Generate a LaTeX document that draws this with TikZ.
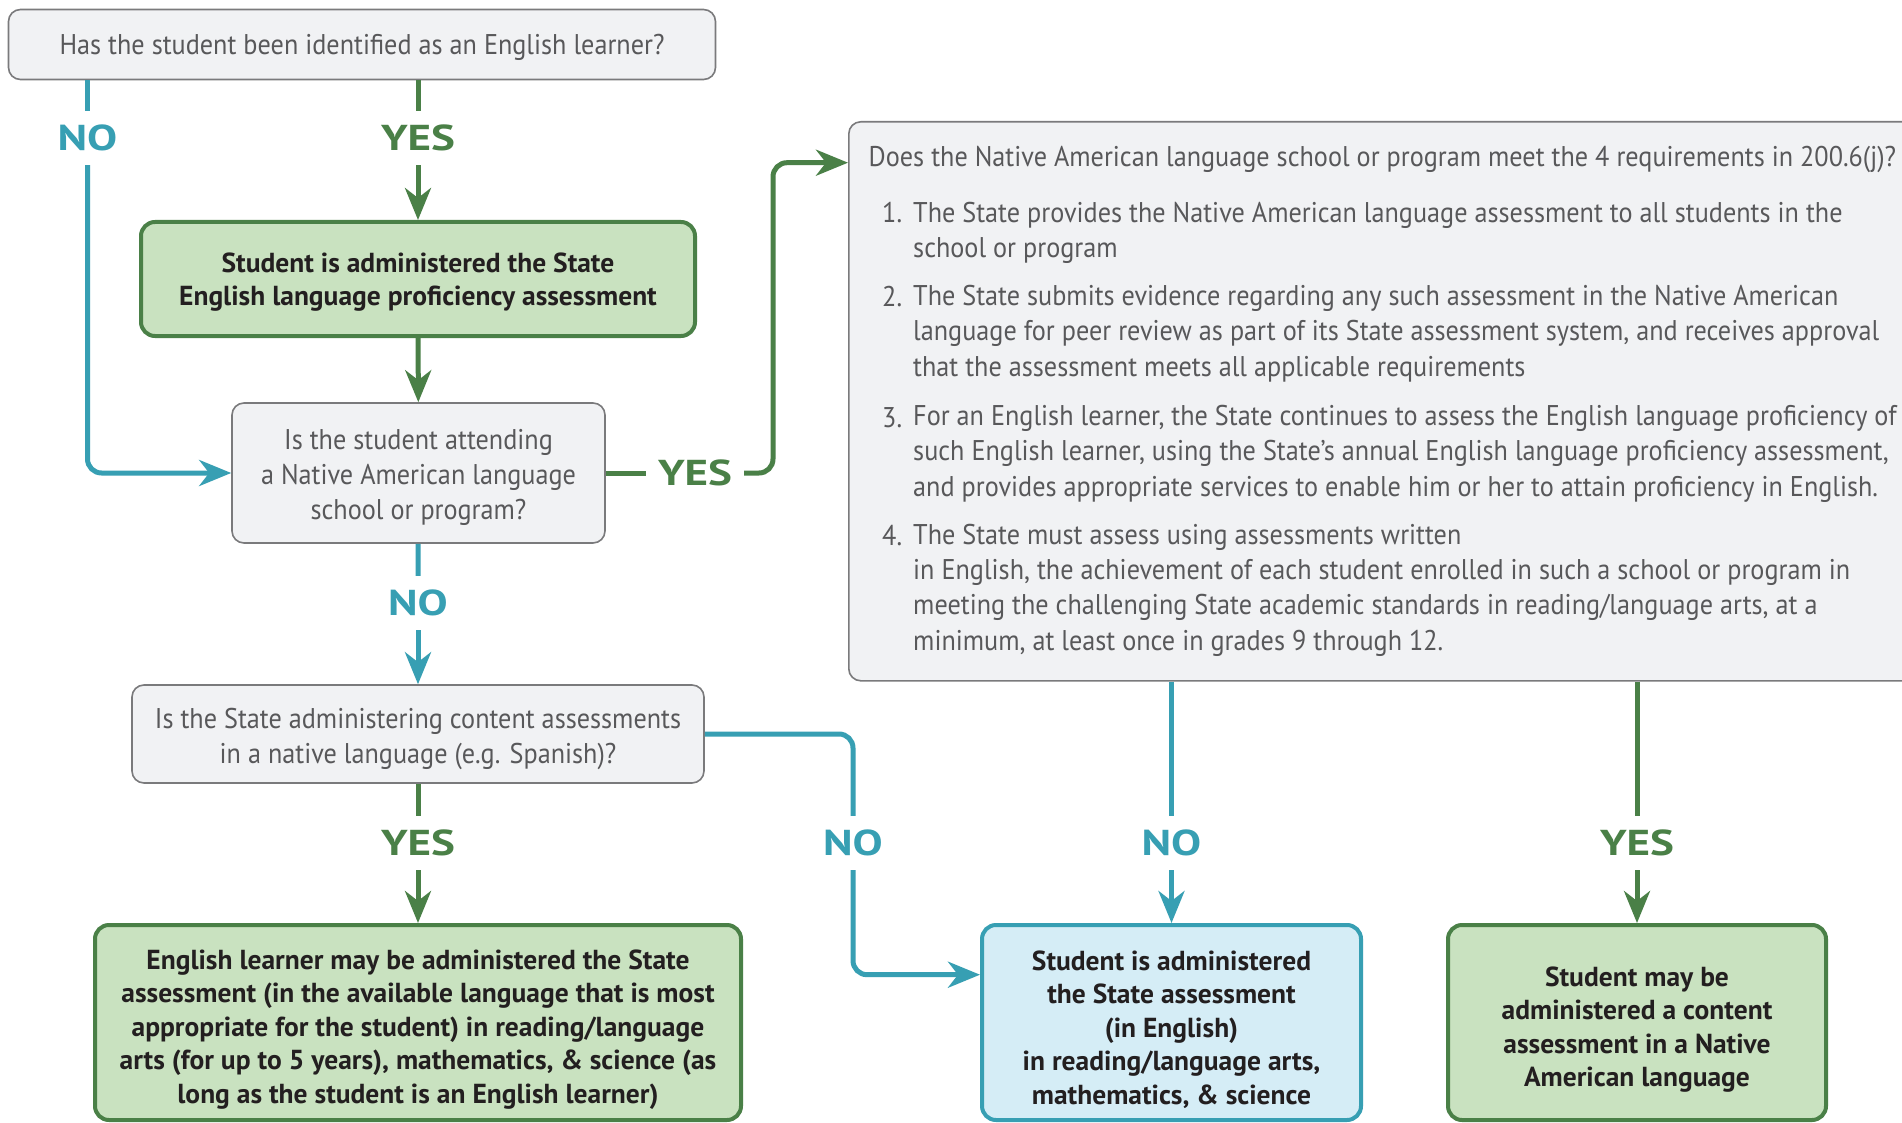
\documentclass[tikz,border=0pt]{standalone}
\usepackage{fontspec}
\setmainfont{PT Sans}[FakeStretch=0.92]
\newfontfamily\boldfnt{PT Sans}[FakeStretch=1.0]
\newfontfamily\lblfont{PT Sans}[FakeStretch=1.25]
\usetikzlibrary{arrows.meta,calc}
\definecolor{tealC}{HTML}{379FB3}
\definecolor{greenC}{HTML}{4A8047}
\definecolor{gfill}{HTML}{C9E2C0}
\definecolor{bfill}{HTML}{D5EDF6}
\definecolor{qfill}{HTML}{F1F2F4}
\definecolor{boxgray}{HTML}{7A7A7C}
\definecolor{qtext}{HTML}{58585A}
\definecolor{btext}{HTML}{231F20}
\begin{document}
\begin{tikzpicture}[x=1pt,y=-1pt,
  qbox/.style={draw=boxgray, line width=1.6pt, fill=qfill, rounded corners=12pt, text=qtext,
    font=\fontsize{28.5}{35}\selectfont, align=center, inner sep=0pt},
  gbox/.style={draw=greenC, line width=4pt, fill=gfill, rounded corners=14pt, inner sep=0pt},
  bbox/.style={draw=tealC, line width=4pt, fill=bfill, rounded corners=14pt, inner sep=0pt},
  btxt/.style={text=btext, font=\boldfnt\bfseries\fontsize{27.5}{33.4}\selectfont, align=center, inner sep=0pt},
  lbl/.style={font=\lblfont\bfseries\fontsize{36}{36}\selectfont, minimum height=54pt, inner ysep=0pt, inner xsep=12pt},
  nolbl/.style={lbl, text=tealC},
  yeslbl/.style={lbl, text=greenC},
  tline/.style={draw=tealC, line width=5pt, rounded corners=14pt},
  gline/.style={draw=greenC, line width=5pt, rounded corners=14pt},
  arr/.style={-{Stealth[length=32pt,width=26pt,inset=10pt]}},
  reqtext/.style={text=qtext, font=\fontsize{28.5}{35.2}\selectfont, inner sep=0pt, align=left, anchor=base west}
]
\fill[white] (0,0) rectangle (1902,1123);
\useasboundingbox (0,0) rectangle (1902,1123);

% boxes
\node[qbox, minimum width=707pt, minimum height=70pt] (q1) at (362,44.5) {};
\node[qbox, minimum width=554pt, minimum height=114pt, gbox] (elp) at (418,279) {};
\node[qbox, minimum width=373pt, minimum height=140pt] (q2) at (418.5,473) {};
\node[qbox, minimum width=572pt, minimum height=98pt] (q3) at (418,734) {};
\node[qbox, minimum width=1100pt, minimum height=559pt, anchor=north west] (req) at (848,121) {};
\node[gbox, minimum width=646pt, minimum height=195pt] (g2) at (418,1022.5) {};
\node[bbox, minimum width=379pt, minimum height=195pt] (blue) at (1171.5,1022.5) {};
\node[gbox, minimum width=378pt, minimum height=195pt] (g3) at (1637,1022.5) {};

% box texts
\node[qbox, draw=none, fill=none] (q1t) at ([yshift=-3pt]q1.center)
  {Has the student been identified as an English learner?};
\node[btxt] (elpt) at ([yshift=-3pt]elp.center)
  {Student is administered the State\\English language proficiency assessment};
\node[qbox, draw=none, fill=none] (q2t) at ([yshift=-4pt]q2.center)
  {Is the student attending\\a Native American language\\school or program?};
\node[qbox, draw=none, fill=none] (q3t) at ([yshift=-5pt]q3.center)
  {Is the State administering content assessments\\in a native language (e.g. Spanish)?};
\node[btxt] (g2t) at ([yshift=-7pt]g2.center)
  {English learner may be administered the State\\assessment (in the available language that is most\\appropriate for the student) in reading/language\\arts (for up to 5 years), mathematics, \& science (as\\long as the student is an English learner)};
\node[btxt] (bluet) at ([yshift=-7pt]blue.center)
  {Student is administered\\the State assessment\\(in English)\\in reading/language arts,\\mathematics, \& science};
\node[btxt] (g3t) at ([yshift=-7pt]g3.center)
  {Student may be\\administered a content\\assessment in a Native\\American language};

% requirement text (anchor = baseline of last line)
\node[reqtext] (rt) at (868.5,167) {Does the Native American language school or program meet the 4 requirements in 200.6(j)?};
\node[reqtext] (n1) at (882,223) {1.};
\node[reqtext] (r1) at (913,258) {The State provides the Native American language assessment to all students in the\\school or program};
\node[reqtext] (n2) at (882,306) {2.};
\node[reqtext] (r2) at (913,376) {The State submits evidence regarding any such assessment in the Native American\\language for peer review as part of its State assessment system, and receives approval\\that the assessment meets all applicable requirements};
\node[reqtext] (n3) at (882,427) {3.};
\node[reqtext] (r3) at (913,496) {For an English learner, the State continues to assess the English language proficiency of\\such English learner, using the State's annual English language proficiency assessment,\\and provides appropriate services to enable him or her to attain proficiency in English.};
\node[reqtext] (n4) at (882,545) {4.};
\node[reqtext] (r4) at (913,650) {The State must assess using assessments written\\in English, the achievement of each student enrolled in such a school or program in\\meeting the challenging State academic standards in reading/language arts, at a\\minimum, at least once in grades 9 through 12.};

% labels
\node[nolbl] (l1no) at (87.5,138) {NO};
\node[yeslbl] (l1yes) at (418,138) {YES};
\node[yeslbl] (l2yes) at (695,473) {YES};
\node[nolbl] (l2no) at (418,603) {NO};
\node[yeslbl] (l3yes) at (418,843) {YES};
\node[nolbl] (l3no) at (853,843) {NO};
\node[nolbl] (l4no) at (1171.5,843) {NO};
\node[yeslbl] (l4yes) at (1637,843) {YES};

\coordinate (turn) at (773,162.7);
\coordinate (reqin) at (848,162.7);
\coordinate (bluein) at ([yshift=-51.7pt]blue.north west);

% connectors
\draw[tline] (q1.south -| l1no) -- (l1no);
\draw[tline, arr] (l1no) |- (q2);
\draw[gline] (q1.south -| l1yes) -- (l1yes);
\draw[gline, arr] (l1yes) -- (elp);
\draw[gline, arr] (elp) -- (q2);
\draw[gline] (q2) -- (l2yes);
\draw[gline, arr] (l2yes.east) -| (turn) -- (reqin);
\draw[tline] (q2) -- (l2no);
\draw[tline, arr] (l2no) -- (q3);
\draw[gline] (q3) -- (l3yes);
\draw[gline, arr] (l3yes) -- (g2);
\draw[tline] (q3.east) -| (l3no);
\draw[tline, arr] (l3no) |- (bluein);
\draw[tline] (req.south -| l4no) -- (l4no);
\draw[tline, arr] (l4no) -- (blue);
\draw[gline] (req.south -| l4yes) -- (l4yes);
\draw[gline, arr] (l4yes) -- (g3);
\end{tikzpicture}
\end{document}
